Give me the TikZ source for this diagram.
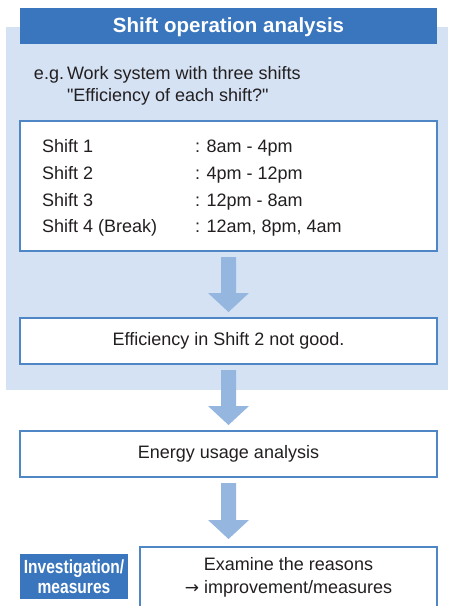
\documentclass[tikz,border=0pt]{standalone}
\usepackage{fontspec}
\setmainfont{Liberation Sans}[Ligatures=TeXOff]
\newfontfamily\narrowfont[FakeStretch=0.82]{Liberation Sans}
\newfontfamily\arrowfont{DejaVu Sans}
\usetikzlibrary{calc}
\definecolor{bgblue}{HTML}{D4E2F4}
\definecolor{titleblue}{HTML}{3A76BD}
\definecolor{arrowblue}{HTML}{95B6DF}
\definecolor{edgeblue}{HTML}{4F86C6}
\definecolor{txt}{HTML}{231F20}
\newcommand\blockarrow[3][25]{%
  \fill[arrowblue] ($(#2.south)+(-7.5,6)$) -- ($(#2.south)+(7.5,6)$)
    -- ($(#2.south |- #3.north)+(7.5,-#1)$) -- ($(#2.south |- #3.north)+(20.5,-#1)$)
    -- ($(#2.south |- #3.north)+(0,-#1+19)$) -- ($(#2.south |- #3.north)+(-20.5,-#1)$)
    -- ($(#2.south |- #3.north)+(-7.5,-#1)$) -- cycle;}
\begin{document}
\begin{tikzpicture}[x=1pt,y=-1pt,
  every node/.style={inner sep=0pt, outer sep=0pt},
  body/.style={text=txt, font=\fontsize{18}{23}\selectfont},
  lbl/.style={body, anchor=base west},
  whitebox/.style={draw=edgeblue, line width=1.1pt, fill=white, anchor=north west},
  bluebar/.style={fill=titleblue, anchor=north west, text=white}
]
\useasboundingbox (0,0) rectangle (448,606);
% background panel
\node[fill=bgblue, anchor=north west, minimum width=442pt, minimum height=363pt] (bg) at (6,27) {};
% title
\node[bluebar, minimum width=417pt, minimum height=36pt] (title) at (20,8) {};
\node[text=white, font=\bfseries\fontsize{20.5}{24}\selectfont] (titletext) at ($(title.center)+(0,1)$) {Shift operation analysis};
% example text
\node[lbl] (eg) at (34,79) {e.g.};
\node[lbl] (eg1) at (67,79) {Work system with three shifts};
\node[lbl] (eg2) at (67,101) {"Efficiency of each shift?"};
% shift table box
\node[whitebox, minimum width=417pt, minimum height=130pt] (shifts) at (20,121) {};
\node[lbl] (s1) at (42,152) {Shift 1};
\node[lbl] (t1) at (195,152) {: 8am - 4pm};
\node[lbl] (s2) at (42,179) {Shift 2};
\node[lbl] (t2) at (195,179) {: 4pm - 12pm};
\node[lbl] (s3) at (42,206) {Shift 3};
\node[lbl] (t3) at (195,206) {: 12pm - 8am};
\node[lbl] (s4) at (42,232) {Shift 4 (Break)};
\node[lbl] (t4) at (195,232) {: 12am, 8pm, 4am};
% efficiency box
\node[whitebox, minimum width=417pt, minimum height=46pt] (eff) at (20,318) {};
\node[body] (efftext) at (eff.center) {Efficiency in Shift 2 not good.};
% energy box
\node[whitebox, minimum width=417pt, minimum height=46pt] (energy) at (20,431) {};
\node[body] (energytext) at (energy.center) {Energy usage analysis};
% investigation label
\node[bluebar, minimum width=108pt, minimum height=45pt] (inv) at (20,554) {};
\node[text=white, align=center, font=\narrowfont\bfseries\fontsize{19}{20}\selectfont] (invtext) at ($(inv.center)+(0,0.5)$) {Investigation/\\measures};
% examine box (runs off the bottom)
\node[whitebox, minimum width=297pt, minimum height=75pt] (exam) at (140,547) {};
\node[body, align=center] (examtext) at (288.5,577) {Examine the reasons\\{\arrowfont\fontsize{17}{23}\selectfont →} improvement/measures};
% arrows
\blockarrow{shifts}{eff}
\blockarrow{eff}{energy}
\blockarrow[27]{energy}{exam}
\end{tikzpicture}
\end{document}
